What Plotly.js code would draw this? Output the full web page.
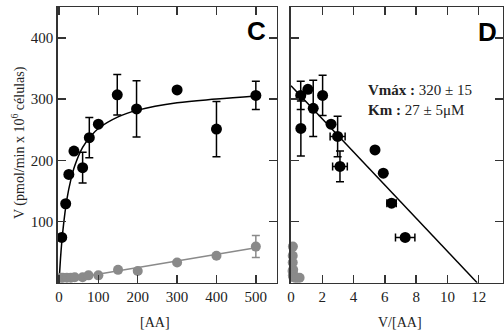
<!DOCTYPE html>
<html>
<head>
<meta charset="utf-8">
<script src="https://cdn.plot.ly/plotly-3.0.1.min.js"></script>
<style>html,body{margin:0;padding:0;background:#fff;}#chart{width:504px;height:335px;}</style>
</head>
<body>
<div id="chart"></div>
<script>
// Panel C: V vs [AA]
const cBlackX = [7, 17, 25, 38, 60, 77, 100, 148, 197, 300, 400, 500];
const cBlackY = [74, 129, 177, 215, 188, 237, 259, 307, 284, 315, 251, 306];
const cBlackErr = [0, 0, 0, 0, 25, 33, 0, 33, 46, 0, 45, 23];
const cGrayX = [5, 10, 20, 30, 40, 60, 75, 100, 150, 200, 300, 400, 500];
const cGrayY = [8, 8, 8, 8, 9, 9, 12, 12, 21, 19, 33, 44, 59];
const cGrayErr = [0, 0, 0, 0, 0, 0, 0, 0, 0, 0, 0, 0, 18];
const cFitX = [0, 5, 10, 20, 30, 40, 60, 80, 100, 150, 200, 300, 400, 500];
const cFitY = [0, 50, 86, 136, 168, 191, 221, 239, 252, 271, 282, 294, 300, 305];
const cGrayFitX = [0, 500];
const cGrayFitY = [3, 57];
// Panel D: V vs V/[AA]
const dBlackX = [0.62, 0.63, 1.08, 1.42, 2.02, 2.56, 2.98, 3.13, 5.37, 5.9, 6.43, 7.3];
const dBlackY = [306, 252, 316, 285, 306, 259, 239, 190, 217, 179, 130, 74];
const dBlackYErr = [23, 45, 0, 46, 33, 0, 33, 25, 0, 0, 0, 0];
const dBlackXErr = [0, 0, 0, 0, 0, 0, 0.48, 0.47, 0, 0, 0.3, 0.62];
const dGrayX = [0.12, 0.11, 0.11, 0.14, 0.10, 0.16, 0.12, 0.15, 0.22, 0.27, 0.40, 0.55];
const dGrayY = [59, 44, 33, 21, 19, 12, 12, 9, 9, 8, 8, 8];
const dFitX = [0, 11.9];
const dFitY = [322, 0];
const yTicks = [100, 200, 300, 400];
const cTicks = [0, 100, 200, 300, 400, 500];
const dTicks = [0, 2, 4, 6, 8, 10, 12];

const black = '#000000', gray = '#8a8a8a', axisCol = '#333333';
const serif = 'Liberation Serif, Times New Roman, serif';

const traces = [
  {x: cFitX, y: cFitY, mode: 'lines', line: {color: black, width: 1.5, shape: 'spline'}, xaxis: 'x', yaxis: 'y', hoverinfo: 'skip'},
  {x: cGrayFitX, y: cGrayFitY, mode: 'lines', line: {color: gray, width: 1.5}, xaxis: 'x', yaxis: 'y'},
  {x: cGrayX, y: cGrayY, mode: 'markers', marker: {color: gray, size: 10},
   error_y: {type: 'data', array: cGrayErr, color: gray, thickness: 1.5, width: 4}, xaxis: 'x', yaxis: 'y', cliponaxis: false},
  {x: cBlackX, y: cBlackY, mode: 'markers', marker: {color: black, size: 11},
   error_y: {type: 'data', array: cBlackErr, color: black, thickness: 1.5, width: 4}, xaxis: 'x', yaxis: 'y', cliponaxis: false},
  {x: dFitX, y: dFitY, mode: 'lines', line: {color: black, width: 1.5}, xaxis: 'x2', yaxis: 'y2'},
  {x: dGrayX, y: dGrayY, mode: 'markers', marker: {color: gray, size: 10}, xaxis: 'x2', yaxis: 'y2', cliponaxis: false},
  {x: dBlackX, y: dBlackY, mode: 'markers', marker: {color: black, size: 11},
   error_y: {type: 'data', array: dBlackYErr, color: black, thickness: 1.5, width: 4},
   error_x: {type: 'data', array: dBlackXErr, color: black, thickness: 1.5, width: 4},
   xaxis: 'x2', yaxis: 'y2', cliponaxis: false}
];

const axBase = {
  showline: true, linecolor: axisCol, linewidth: 1.5, mirror: 'ticks',
  ticks: 'inside', ticklen: 8, tickwidth: 1.5, tickcolor: axisCol,
  showgrid: false, zeroline: false,
  tickfont: {family: serif, size: 15, color: '#222'}
};
const yDom = [52.3/335, 327.7/335];
function ann(text, px, py, size, extra) {
  return Object.assign({text: text, xref: 'paper', yref: 'paper', x: px/504, y: 1 - py/335,
    xanchor: 'center', yanchor: 'middle', showarrow: false,
    font: {family: serif, size: size, color: '#222'}}, extra || {});
}

const layout = {
  width: 504, height: 335,
  margin: {l: 0, r: 0, t: 0, b: 0},
  paper_bgcolor: '#fff', plot_bgcolor: '#fff',
  showlegend: false,
  xaxis: Object.assign({}, axBase, {domain: [57.7/504, 276.7/504], range: [-3.3, 553], tickvals: cTicks, anchor: 'y'}),
  yaxis: Object.assign({}, axBase, {domain: yDom, range: [0, 450], tickvals: yTicks, anchor: 'x'}),
  xaxis2: Object.assign({}, axBase, {domain: [290.7/504, 503.4/504], range: [-0.02, 13.58], tickvals: dTicks, anchor: 'y2'}),
  yaxis2: Object.assign({}, axBase, {domain: yDom, range: [0, 450], tickvals: yTicks, showticklabels: false, anchor: 'x2'}),
  annotations: [
    ann('V (pmol/min x 10<sup>6</sup> células)', 18, 143, 14, {textangle: -90}),
    ann('[AA]', 155, 322, 14),
    ann('V/[AA]', 400, 322, 14),
    ann('<b>C</b>', 256, 31, 26, {font: {family: 'Liberation Sans, Arial, sans-serif', size: 26, color: '#000'}}),
    ann('<b>D</b>', 487.5, 32, 26, {font: {family: 'Liberation Sans, Arial, sans-serif', size: 26, color: '#000'}}),
    ann('<b>Vmáx :</b> 320 ± 15', 366, 90, 15, {xanchor: 'left'}),
    ann('<b>Km :</b> 27 ± 5μM', 366, 110, 15, {xanchor: 'left'})
  ]
};

Plotly.newPlot('chart', traces, layout, {displayModeBar: false, staticPlot: true});
</script>
</body>
</html>
